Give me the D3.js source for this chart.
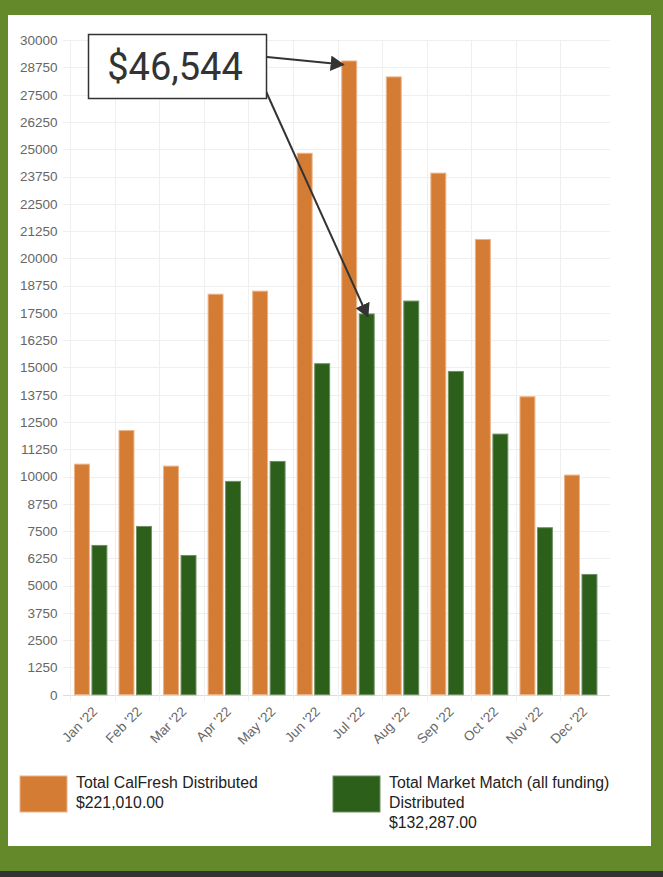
<!DOCTYPE html>
<html>
<head>
<meta charset="utf-8">
<style>
  html, body { margin: 0; padding: 0; background: #63892a; }
  #chart { width: 663px; height: 877px; }
</style>
</head>
<body>
<div id="chart"></div>

<script src="https://d3js.org/d3.v7.min.js"></script>

<script>
    // data
    var months = ["Jan '22", "Feb '22", "Mar '22", "Apr '22", "May '22", "Jun '22",
                  "Jul '22", "Aug '22", "Sep '22", "Oct '22", "Nov '22", "Dec '22"];
    var calFresh = [10590, 12130, 10500, 18380, 18520, 24840, 29070, 28340, 23930, 20890, 13680, 10090];
    var marketMatch = [6865, 7735, 6405, 9800, 10715, 15195, 17474, 18065, 14840, 11968, 7676, 5535];
    var yTicks = d3.range(0, 30001, 1250);
    var legendLines = [
        ["Total CalFresh Distributed", "$221,010.00"],
        ["Total Market Match (all funding)", "Distributed", "$132,287.00"]
    ];
    var calloutText = "$46,544";
    var calloutMonth = "Jul '22";

    var width = 663, height = 877;
    var orange = "#d57c34", green = "#2b5f1a";

    var svg = d3.select("#chart").append("svg")
        .attr("width", width)
        .attr("height", height);

    // frame: green page, white card, dark strip at the bottom
    svg.append("rect").attr("x", 0).attr("y", 0).attr("width", width).attr("height", height).attr("fill", "#63892a");
    svg.append("rect").attr("x", 8).attr("y", 15).attr("width", 643).attr("height", 831).attr("fill", "#fff");
    svg.append("rect").attr("x", 0).attr("y", 871).attr("width", width).attr("height", 6).attr("fill", "#333");

    var x = d3.scaleBand().domain(months).range([68.4, 603]);
    var sub = d3.scaleBand().domain(["cf", "mm"]).range([0, x.bandwidth() * 0.75]).paddingInner(0.09);
    var y = d3.scaleLinear().domain([0, 30000]).range([694.7, 40.2]);

    // grid
    var grid = svg.append("g");
    grid.selectAll("line.h").data(yTicks).enter().append("line")
        .attr("x1", 63).attr("x2", 610)
        .attr("y1", function(d){ return Math.round(y(d)) + 0.5; })
        .attr("y2", function(d){ return Math.round(y(d)) + 0.5; })
        .attr("stroke", function(d){ return d === 0 ? "#dcdcdc" : "#efefef"; })
        .attr("stroke-width", 1);
    grid.selectAll("line.v").data(months).enter().append("line")
        .attr("x1", function(d){ return Math.round(x(d) + 1.8) + 0.5; })
        .attr("x2", function(d){ return Math.round(x(d) + 1.8) + 0.5; })
        .attr("y1", y(30000)).attr("y2", 701)
        .attr("stroke", "#efefef");

    // y labels
    svg.append("g").selectAll("text").data(yTicks).enter().append("text")
        .attr("x", 57.5)
        .attr("y", function(d){ return y(d); })
        .attr("dy", "0.36em")
        .attr("text-anchor", "end")
        .attr("font-family", "Arial, 'Liberation Sans', sans-serif")
        .attr("font-size", 13.5)
        .attr("fill", "#666")
        .text(function(d){ return d; });

    // bars
    var rows = months.map(function(m, i){ return { m: m, cf: calFresh[i], mm: marketMatch[i] }; });
    var groups = svg.append("g").selectAll("g").data(rows).enter().append("g")
        .attr("transform", function(d){ return "translate(" + (x(d.m) + x.bandwidth() * 0.125) + ",0)"; });

    groups.append("rect")
        .attr("x", sub("cf") + 0.5)
        .attr("y", function(d){ return y(d.cf) + 0.5; })
        .attr("width", sub.bandwidth() - 1)
        .attr("height", function(d){ return y(0) - y(d.cf) - 0.5; })
        .attr("fill", orange)
        .attr("stroke", "#eab48a").attr("stroke-width", 1);

    groups.append("rect")
        .attr("x", sub("mm") + 0.5)
        .attr("y", function(d){ return y(d.mm) + 0.5; })
        .attr("width", sub.bandwidth() - 1)
        .attr("height", function(d){ return y(0) - y(d.mm) - 0.5; })
        .attr("fill", green)
        .attr("stroke", "#6f8f62").attr("stroke-width", 1);

    // x labels, rotated
    svg.append("g").selectAll("text").data(months).enter().append("text")
        .attr("transform", function(d){
            return "translate(" + (x(d) + x.bandwidth() / 2 + 4) + ",709) rotate(-45)";
        })
        .attr("text-anchor", "end")
        .attr("dy", "0.36em")
        .attr("font-family", "Arial, 'Liberation Sans', sans-serif")
        .attr("font-size", 13.5)
        .attr("fill", "#666")
        .text(function(d){ return d; });

    // callout box with two arrows
    var defs = svg.append("defs");
    defs.append("marker")
        .attr("id", "head")
        .attr("viewBox", "0 0 10 11")
        .attr("refX", 9).attr("refY", 5.5)
        .attr("markerWidth", 7).attr("markerHeight", 7.7)
        .attr("markerUnits", "strokeWidth")
        .attr("orient", "auto")
        .append("path").attr("d", "M0,0 L10,5.5 L0,11 z").attr("fill", "#333");

    var ci = months.indexOf(calloutMonth);
    var gx = x(calloutMonth) + x.bandwidth() * 0.125;
    var tip1 = [gx + sub("cf") + 2, y(calFresh[ci]) + 4];
    var tip2 = [gx + sub("mm") + sub.bandwidth() / 2 + 1, y(marketMatch[ci]) + 3];

    svg.append("line")
        .attr("x1", 267).attr("y1", 57).attr("x2", tip1[0]).attr("y2", tip1[1])
        .attr("stroke", "#333").attr("stroke-width", 2).attr("marker-end", "url(#head)");
    svg.append("line")
        .attr("x1", 264).attr("y1", 87).attr("x2", tip2[0]).attr("y2", tip2[1])
        .attr("stroke", "#333").attr("stroke-width", 2).attr("marker-end", "url(#head)");

    svg.append("rect")
        .attr("x", 88.5).attr("y", 34.5).attr("width", 178).attr("height", 64)
        .attr("fill", "#fff").attr("stroke", "#333").attr("stroke-width", 1.5);
    svg.append("text")
        .attr("x", 175).attr("y", 80)
        .attr("text-anchor", "middle")
        .attr("font-family", "Roboto, sans-serif")
        .attr("font-size", 38)
        .attr("fill", "#333")
        .text(calloutText);

    // legend
    var legend = svg.append("g");
    var lx = [20, 333];
    [orange, green].forEach(function(c, i){
        legend.append("rect")
            .attr("x", lx[i]).attr("y", 776).attr("width", 47).attr("height", 36)
            .attr("fill", c)
            .attr("stroke", i === 0 ? "#eab48a" : "#6f8f62").attr("stroke-width", 1);
        legend.append("text")
            .attr("x", lx[i] + 56).attr("y", 788)
            .attr("font-family", "Arial, 'Liberation Sans', sans-serif")
            .attr("font-size", 15.8)
            .attr("fill", "#222")
            .selectAll("tspan").data(legendLines[i]).enter().append("tspan")
            .attr("x", lx[i] + 56)
            .attr("dy", function(d, j){ return j === 0 ? 0 : 20; })
            .text(function(d){ return d; });
    });
</script>
</body>
</html>
